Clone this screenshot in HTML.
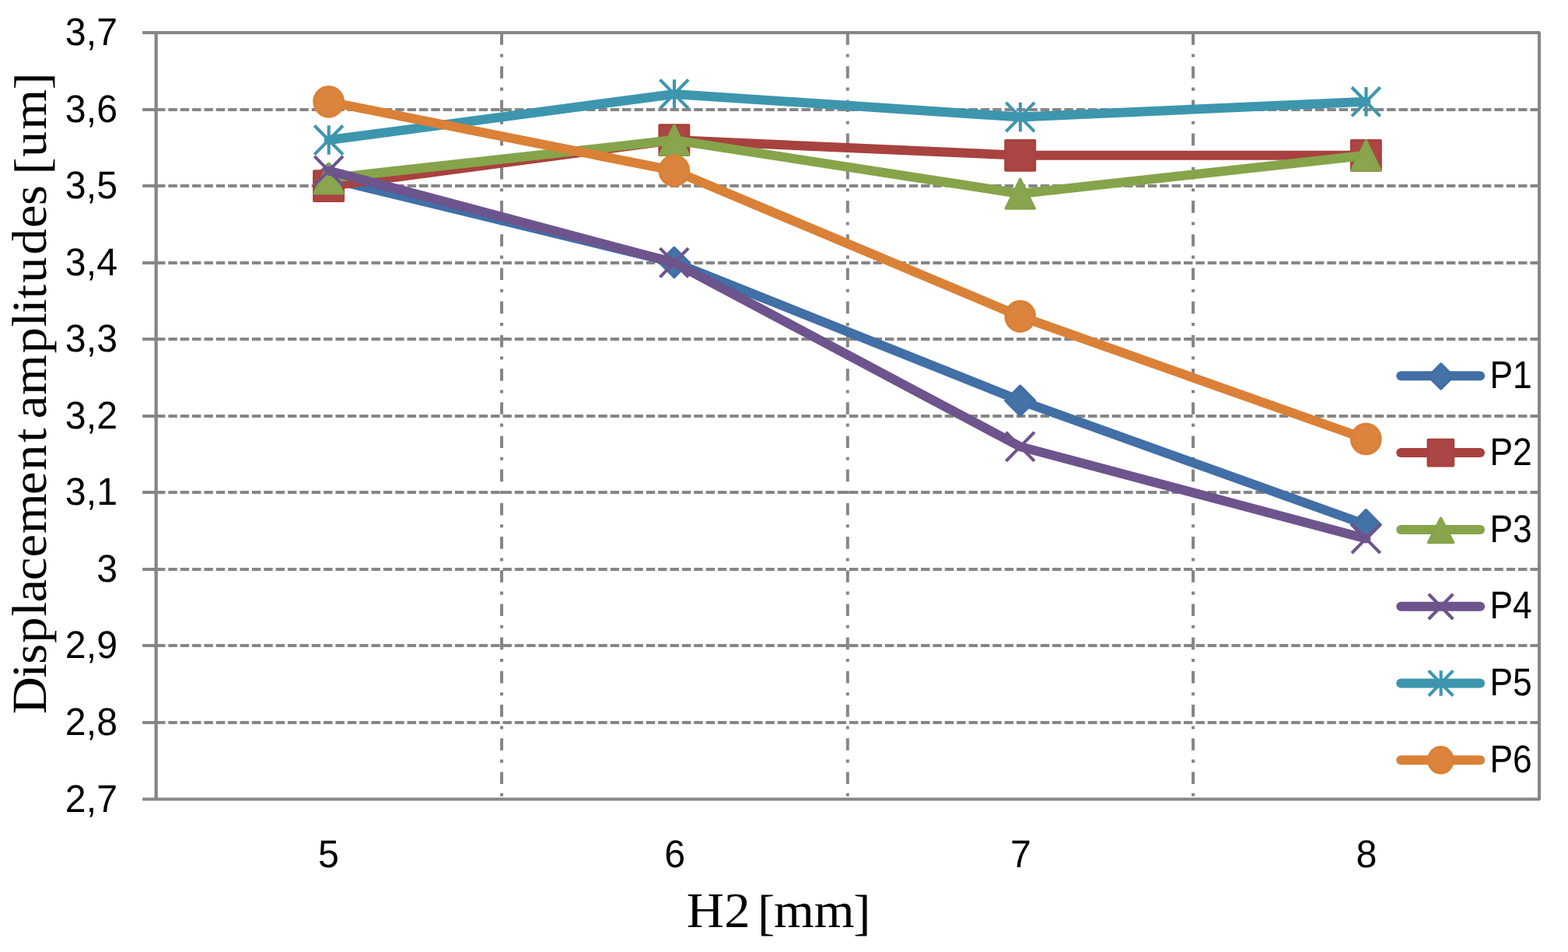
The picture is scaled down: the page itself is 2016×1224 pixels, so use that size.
<!DOCTYPE html>
<html lang="en"><head><meta charset="utf-8"><title>Displacement amplitudes vs H2</title>
<style>html,body{margin:0;padding:0;background:#fff;}body{width:2016px;height:1224px;overflow:hidden;}svg{display:block;}text{text-rendering:geometricPrecision;}.s{font-family:"Liberation Sans",sans-serif;fill:#000;}.r{font-family:"Liberation Serif",serif;fill:#000;}</style></head><body>
<svg width="2016" height="1224" viewBox="0 0 2016 1224">
<rect x="0" y="0" width="2016" height="1224" fill="#ffffff"/>
<g fill="none" stroke="#868686" stroke-width="4">
<path d="M201 141H1979" stroke-dasharray="11.45 3.91"/>
<path d="M201 239H1979" stroke-dasharray="11.45 3.91"/>
<path d="M201 338H1979" stroke-dasharray="11.45 3.91"/>
<path d="M201 436H1979" stroke-dasharray="11.45 3.91"/>
<path d="M201 535H1979" stroke-dasharray="11.45 3.91"/>
<path d="M201 633H1979" stroke-dasharray="11.45 3.91"/>
<path d="M201 732H1979" stroke-dasharray="11.45 3.91"/>
<path d="M201 830H1979" stroke-dasharray="11.45 3.91"/>
<path d="M201 929H1979" stroke-dasharray="11.45 3.91"/>
<path d="M645 42V1027.5" stroke-dasharray="15.65 11.75 4.05 11.75"/>
<path d="M1089.8 42V1027.5" stroke-dasharray="15.65 11.75 4.05 11.75"/>
<path d="M1534 42V1027.5" stroke-dasharray="15.65 11.75 4.05 11.75"/>
<path d="M183.2 42H1979V1027.5H183.2" stroke-linejoin="round"/>
<path d="M200.7 42V1027.5" stroke-width="4.3"/>
<path d="M183.2 141H201M183.2 239H201M183.2 338H201M183.2 436H201M183.2 535H201M183.2 633H201M183.2 732H201M183.2 830H201M183.2 929H201"/>
</g>
<g class="s" font-size="49.8" text-anchor="end">
<text transform="translate(151 58.2) scale(0.97 1)">3,7</text>
<text transform="translate(151 157.2) scale(0.97 1)">3,6</text>
<text transform="translate(151 255.2) scale(0.97 1)">3,5</text>
<text transform="translate(151 354.2) scale(0.97 1)">3,4</text>
<text transform="translate(151 452.2) scale(0.97 1)">3,3</text>
<text transform="translate(151 551.2) scale(0.97 1)">3,2</text>
<text transform="translate(151 649.2) scale(0.97 1)">3,1</text>
<text transform="translate(151 748.2) scale(0.97 1)">3</text>
<text transform="translate(151 846.2) scale(0.97 1)">2,9</text>
<text transform="translate(151 945.2) scale(0.97 1)">2,8</text>
<text transform="translate(151 1043.7) scale(0.97 1)">2,7</text>
</g>
<g class="s" font-size="49.8" text-anchor="middle">
<text transform="translate(422.5 1115.3) scale(0.97 1)">5</text>
<text transform="translate(867.8 1115.3) scale(0.97 1)">6</text>
<text transform="translate(1312.4 1115.3) scale(0.97 1)">7</text>
<text transform="translate(1757 1115.3) scale(0.97 1)">8</text>
</g>
<polyline points="422.6,229.35 866.8,337.36 1311.7,515.14 1756.3,674.69" fill="none" stroke="#416FA6" stroke-width="12" stroke-linecap="round" stroke-linejoin="round"/>
<polygon points="422.6,210.55 441.3,229.35 422.6,248.15 403.9,229.35" fill="#4573A7" stroke="#416FA6" stroke-width="3.6" stroke-linejoin="round"/>
<polygon points="866.8,318.56 885.5,337.36 866.8,356.16 848.1,337.36" fill="#4573A7" stroke="#416FA6" stroke-width="3.6" stroke-linejoin="round"/>
<polygon points="1311.7,496.34 1330.4,515.14 1311.7,533.94 1293,515.14" fill="#4573A7" stroke="#416FA6" stroke-width="3.6" stroke-linejoin="round"/>
<polygon points="1756.3,655.89 1775,674.69 1756.3,693.49 1737.6,674.69" fill="#4573A7" stroke="#416FA6" stroke-width="3.6" stroke-linejoin="round"/>
<polyline points="422.6,239.2 866.8,180.07 1311.7,199.78 1756.3,199.78" fill="none" stroke="#A8423F" stroke-width="12" stroke-linecap="round" stroke-linejoin="round"/>
<rect x="403.9" y="220.1" width="37.4" height="38.2" fill="#AA4644" stroke="#A8423F" stroke-width="3.6" stroke-linejoin="round"/>
<rect x="848.1" y="160.97" width="37.4" height="38.2" fill="#AA4644" stroke="#A8423F" stroke-width="3.6" stroke-linejoin="round"/>
<rect x="1293" y="180.68" width="37.4" height="38.2" fill="#AA4644" stroke="#A8423F" stroke-width="3.6" stroke-linejoin="round"/>
<rect x="1737.6" y="180.68" width="37.4" height="38.2" fill="#AA4644" stroke="#A8423F" stroke-width="3.6" stroke-linejoin="round"/>
<polyline points="422.6,229.35 866.8,180.07 1311.7,249.05 1756.3,199.78" fill="none" stroke="#86A44A" stroke-width="12" stroke-linecap="round" stroke-linejoin="round"/>
<polygon points="422.6,210.75 441,248.35 404.2,248.35" fill="#89A54E" stroke="#86A44A" stroke-width="3.6" stroke-linejoin="round"/>
<polygon points="866.8,161.47 885.2,199.07 848.4,199.07" fill="#89A54E" stroke="#86A44A" stroke-width="3.6" stroke-linejoin="round"/>
<polygon points="1311.7,230.45 1330.1,268.05 1293.3,268.05" fill="#89A54E" stroke="#86A44A" stroke-width="3.6" stroke-linejoin="round"/>
<polygon points="1756.3,181.18 1774.7,218.78 1737.9,218.78" fill="#89A54E" stroke="#86A44A" stroke-width="3.6" stroke-linejoin="round"/>
<polyline points="422.6,219.49 866.8,337.75 1311.7,574.27 1756.3,692.53" fill="none" stroke="#6E548D" stroke-width="12" stroke-linecap="round" stroke-linejoin="round"/>
<path d="M404.3 200.89L440.9 238.09M440.9 200.89L404.3 238.09" fill="none" stroke="#6E548D" stroke-width="4.1"/>
<path d="M848.5 319.15L885.1 356.35M885.1 319.15L848.5 356.35" fill="none" stroke="#6E548D" stroke-width="4.1"/>
<path d="M1293.4 555.67L1330 592.87M1330 555.67L1293.4 592.87" fill="none" stroke="#6E548D" stroke-width="4.1"/>
<path d="M1738 673.93L1774.6 711.13M1774.6 673.93L1738 711.13" fill="none" stroke="#6E548D" stroke-width="4.1"/>
<polyline points="422.6,180.07 866.8,120.94 1311.7,150.51 1756.3,130.8" fill="none" stroke="#3D96AE" stroke-width="12" stroke-linecap="round" stroke-linejoin="round"/>
<path d="M404.3 161.47L440.9 198.67M440.9 161.47L404.3 198.67M422.75 161.27V198.87" fill="none" stroke="#3D96AE" stroke-width="4.1"/>
<path d="M848.5 102.34L885.1 139.54M885.1 102.34L848.5 139.54M866.95 102.14V139.74" fill="none" stroke="#3D96AE" stroke-width="4.1"/>
<path d="M1293.4 131.91L1330 169.11M1330 131.91L1293.4 169.11M1311.85 131.71V169.31" fill="none" stroke="#3D96AE" stroke-width="4.1"/>
<path d="M1738 112.2L1774.6 149.4M1774.6 112.2L1738 149.4M1756.45 112V149.6" fill="none" stroke="#3D96AE" stroke-width="4.1"/>
<polyline points="422.6,130.8 866.8,219.49 1311.7,406.74 1756.3,564.42" fill="none" stroke="#DA8137" stroke-width="12" stroke-linecap="round" stroke-linejoin="round"/>
<ellipse cx="422.6" cy="130.8" rx="18.55" ry="19.1" fill="#DB843D" stroke="#DA8137" stroke-width="3.6"/>
<ellipse cx="866.8" cy="219.49" rx="18.55" ry="19.1" fill="#DB843D" stroke="#DA8137" stroke-width="3.6"/>
<ellipse cx="1311.7" cy="406.74" rx="18.55" ry="19.1" fill="#DB843D" stroke="#DA8137" stroke-width="3.6"/>
<ellipse cx="1756.3" cy="564.42" rx="18.55" ry="19.1" fill="#DB843D" stroke="#DA8137" stroke-width="3.6"/>
<path d="M1801.2 483.3H1903.1" fill="none" stroke="#416FA6" stroke-width="12" stroke-linecap="round"/>
<polygon points="1852.6,468.1 1868.4,483.9 1852.6,499.7 1836.8,483.9" fill="#4573A7" stroke="#416FA6" stroke-width="3.6" stroke-linejoin="round"/>
<text class="s" font-size="49.8" transform="translate(1915.4 498.9) scale(0.89 1)">P1</text>
<path d="M1801.2 582.1H1903.1" fill="none" stroke="#A8423F" stroke-width="12" stroke-linecap="round"/>
<rect x="1836.25" y="565.6" width="32.1" height="33" fill="#AA4644" stroke="#A8423F" stroke-width="3.6" stroke-linejoin="round"/>
<text class="s" font-size="49.8" transform="translate(1915.4 597.7) scale(0.89 1)">P2</text>
<path d="M1801.2 680.9H1903.1" fill="none" stroke="#86A44A" stroke-width="12" stroke-linecap="round"/>
<polygon points="1852.5,666.35 1868.45,697.45 1836.55,697.45" fill="#89A54E" stroke="#86A44A" stroke-width="3.6" stroke-linejoin="round"/>
<text class="s" font-size="49.8" transform="translate(1915.4 696.5) scale(0.89 1)">P3</text>
<path d="M1801.2 779.7H1903.1" fill="none" stroke="#6E548D" stroke-width="12" stroke-linecap="round"/>
<path d="M1836.8 763.8L1868.2 796M1868.2 763.8L1836.8 796" fill="none" stroke="#6E548D" stroke-width="4.1"/>
<text class="s" font-size="49.8" transform="translate(1915.4 795.3) scale(0.89 1)">P4</text>
<path d="M1801.2 878.5H1903.1" fill="none" stroke="#3D96AE" stroke-width="12" stroke-linecap="round"/>
<path d="M1836.8 862.4L1868.2 894.6M1868.2 862.4L1836.8 894.6M1852.65 862.2V894.8" fill="none" stroke="#3D96AE" stroke-width="4.1"/>
<text class="s" font-size="49.8" transform="translate(1915.4 894.1) scale(0.89 1)">P5</text>
<path d="M1801.2 977.3H1903.1" fill="none" stroke="#DA8137" stroke-width="12" stroke-linecap="round"/>
<ellipse cx="1852.3" cy="977.3" rx="15.6" ry="16.5" fill="#DB843D" stroke="#DA8137" stroke-width="3.6"/>
<text class="s" font-size="49.8" transform="translate(1915.4 992.9) scale(0.89 1)">P6</text>
<text class="r" font-size="63" transform="translate(59.3 917.2) rotate(-90) scale(1.06 1)" x="-0.88 43.21 59.9 85.37 117.58 134.7 161.37 189.24 217.77 265.36 294.51 328.58 342.43 357.51 386.07 436.75 468.95 485.4 502.83 522.08 556.38 588.95 616.18 639.61 653.47 674.65 707.89 756.26" y="0 0 0 0 0 0 0 0 0 0 0 0 0 0 0 0 0 0 0 0 0 0 0 0 3 0 0 3">Displacement amplitudes [um]</text>
<text class="r" font-size="64" transform="translate(882.5 1192.2) scale(1.04 1)" x="0.37 46.9 74.24 88.03 108.12 157.95 206.51" y="0 0 0 3 0 0 3">H2 [mm]</text>
</svg></body></html>
